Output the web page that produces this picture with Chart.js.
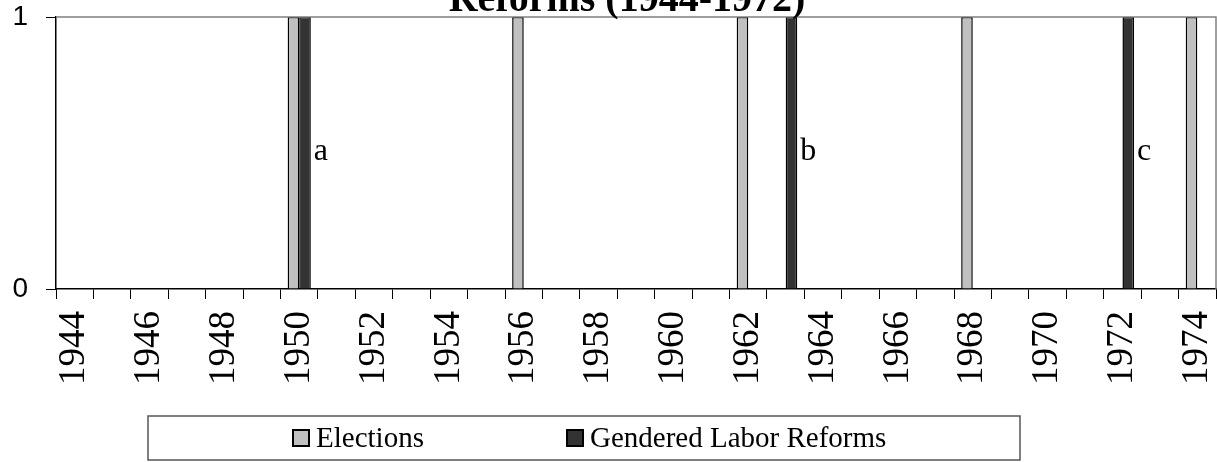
<!DOCTYPE html>
<html>
<head>
<meta charset="utf-8">
<script src="https://cdn.jsdelivr.net/npm/chart.js@4/dist/chart.umd.min.js"></script>
<style>
  html, body { margin: 0; padding: 0; background: #fff; }
  #wrap { position: relative; width: 1217px; height: 462px; }
</style>
</head>
<body>
<div id="wrap"><canvas id="chart"></canvas></div>
<script>
// Data
const years = [];
for (let y = 1944; y <= 1974; y++) years.push(String(y));
const electionYears = ['1950', '1956', '1962', '1968', '1974'];
const reformYears = ['1950', '1963', '1972'];
const reformNotes = ['a', 'b', 'c'];
const titleText = 'Reforms (1944-1972)';

const elections = years.map(y => electionYears.includes(y) ? 1 : 0);
const reforms = years.map(y => reformYears.includes(y) ? 1 : 0);

const serif = '"Liberation Serif", "Times New Roman", serif';
const sans = '"Liberation Sans", Arial, sans-serif';

// Draws title (cut at top), frame, notes and boxed legend
const extras = {
    id: 'extras',
    afterDraw(chart) {
        const ctx = chart.ctx;
        const a = chart.chartArea;
        ctx.save();
        // frame top + right
        ctx.strokeStyle = '#808080';
        ctx.lineWidth = 1.5;
        ctx.beginPath();
        ctx.moveTo(a.left, a.top);
        ctx.lineTo(a.right, a.top);
        ctx.lineTo(a.right, a.bottom);
        ctx.stroke();

        // title (top part is off the page, as in the source)
        ctx.fillStyle = '#000';
        ctx.font = 'bold 40px ' + serif;
        ctx.textAlign = 'center';
        ctx.textBaseline = 'alphabetic';
        ctx.fillText(titleText, 627, 11);

        // notes next to reform bars
        const meta = chart.getDatasetMeta(1);
        const yPix = chart.scales.y.getPixelForValue(0.5) + 7;
        ctx.font = '32px ' + serif;
        ctx.textAlign = 'left';
        reformYears.forEach((yr, i) => {
            const bar = meta.data[years.indexOf(yr)];
            ctx.fillText(reformNotes[i], bar.x + bar.width / 2 + 3, yPix);
        });

        // legend box
        ctx.strokeStyle = '#555';
        ctx.lineWidth = 1.5;
        ctx.strokeRect(148, 416, 872, 44);
        ctx.font = '29px ' + serif;
        ctx.textBaseline = 'alphabetic';
        const items = [
            { x: 293, ds: chart.data.datasets[0] },
            { x: 567, ds: chart.data.datasets[1] }
        ];
        items.forEach(it => {
            ctx.fillStyle = it.ds.backgroundColor;
            ctx.fillRect(it.x, 430, 16, 16);
            ctx.strokeStyle = '#000';
            ctx.lineWidth = 2;
            ctx.strokeRect(it.x, 430, 16, 16);
            ctx.fillStyle = '#000';
            ctx.fillText(it.ds.label, it.x + 23, 447);
        });
        ctx.restore();
    }
};

new Chart(document.getElementById('chart'), {
    type: 'bar',
    data: {
        labels: years,
        datasets: [
            { label: 'Elections', data: elections, backgroundColor: '#c0c0c0',
              borderColor: '#000', borderWidth: 1.5 },
            { label: 'Gendered Labor Reforms', data: reforms, backgroundColor: '#333333',
              borderColor: '#000', borderWidth: 1.5 }
        ]
    },
    options: {
        responsive: true,
        maintainAspectRatio: false,
        animation: false,
        categoryPercentage: 0.62,
        barPercentage: 1.0,
        layout: { padding: { top: 17, right: 1, bottom: 63, left: 0 } },
        plugins: {
            legend: { display: false },
            title: { display: false },
            tooltip: { enabled: false }
        },
        scales: {
            x: {
                offset: true,
                afterFit: s => { s.height = 110; s.paddingLeft = 0; s.paddingRight = 0; },
                grid: { display: true, drawOnChartArea: false, drawTicks: true, tickLength: 10,
                        offset: true, color: '#000', lineWidth: 1 },
                border: { display: true, color: '#000', width: 1.5 },
                ticks: {
                    autoSkip: false, minRotation: 90, maxRotation: 90, padding: 12,
                    color: '#000', font: { family: serif, size: 37 },
                    callback: function(v, i) { return (Number(years[i]) % 2 === 0) ? years[i] : ''; }
                }
            },
            y: {
                min: 0, max: 1,
                afterFit: s => { s.width = 56; s.paddingTop = 0; s.paddingBottom = 0; },
                grid: { display: true, drawOnChartArea: false, drawTicks: true, tickLength: 10, color: '#000' },
                border: { display: true, color: '#000', width: 1.5 },
                ticks: { stepSize: 1, padding: 18, color: '#000', font: { family: sans, size: 28 } }
            }
        }
    },
    plugins: [extras]
});
</script>
</body>
</html>
